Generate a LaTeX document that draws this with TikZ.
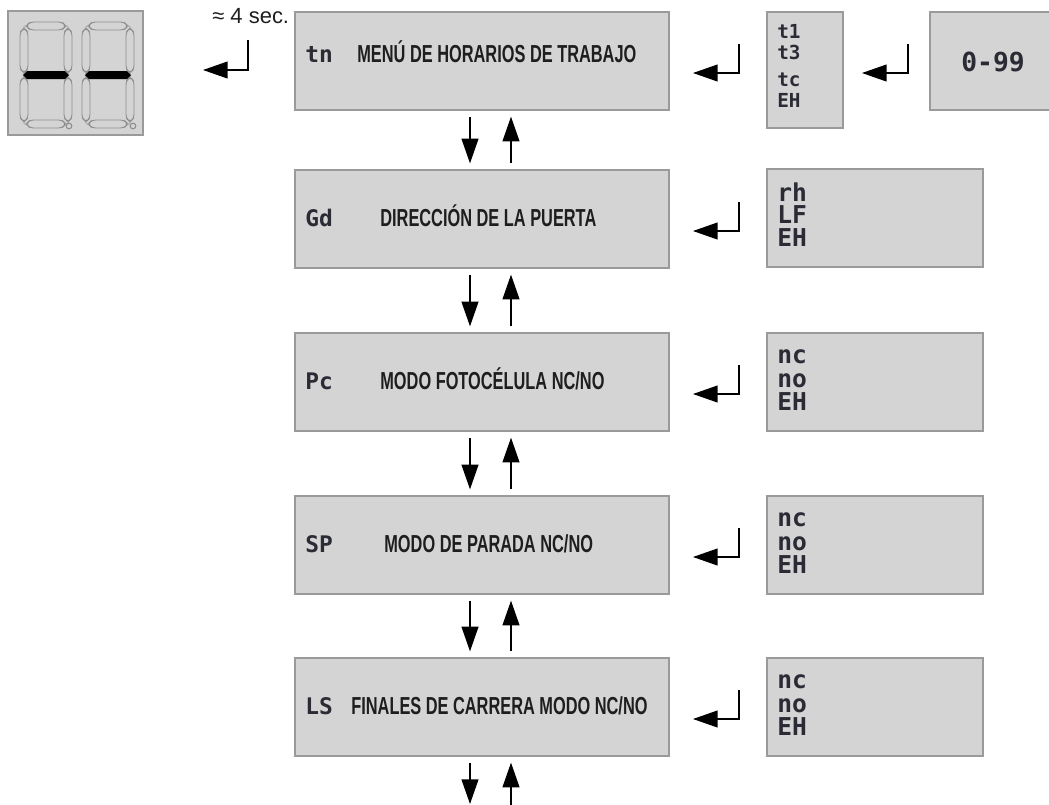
\documentclass[tikz,border=0pt]{standalone}
\usepackage{fontspec}
\usepackage{graphicx}
\setmainfont{Liberation Sans}
\newfontfamily\segfont{DejaVu Sans Mono}
\usetikzlibrary{arrows.meta,calc}
\definecolor{boxfill}{HTML}{D4D4D4}
\definecolor{boxline}{HTML}{9A9A9A}
\definecolor{segcol}{HTML}{2B2B35}
\definecolor{labcol}{HTML}{1E1E1E}
\definecolor{segline}{HTML}{8E8E8E}
\newcommand\hsegm[3]{(#1,#3)--({#1+4},{#3-4})--({#2-4},{#3-4})--(#2,#3)--({#2-4},{#3+4})--({#1+4},{#3+4})--cycle}
\newcommand\vsegm[3]{(#1,#2)--({#1+4},{#2+4})--({#1+4},{#3-4})--(#1,#3)--({#1-4},{#3-4})--({#1-4},{#2+4})--cycle}
\newcommand\sevdigit[2]{%
  \begin{scope}[shift={(#1,#2)}]
    \draw[seg, rounded corners=2pt] \hsegm{6}{46}{4};
    \draw[seg, rounded corners=2pt] \hsegm{6}{46}{102};
    \draw[seg, rounded corners=2pt] \vsegm{4}{6}{51};
    \draw[seg, rounded corners=2pt] \vsegm{48}{6}{51};
    \draw[seg, rounded corners=2pt] \vsegm{4}{55}{100};
    \draw[seg, rounded corners=2pt] \vsegm{48}{55}{100};
    \fill[black] \hsegm{3}{49}{53};
  \end{scope}}
\begin{document}
\begin{tikzpicture}[x=0.02cm,y=-0.02cm,
  box/.style={draw=boxline, fill=boxfill, line width=0.8pt, inner sep=0pt},
  mainbox/.style={box, minimum width=7.48cm, minimum height=1.96cm},
  rbox/.style={box, minimum width=4.32cm, minimum height=1.96cm},
  arr/.style={line width=0.7pt, -{Triangle[length=14pt,width=9.6pt]}},
  code/.style={font=\segfont\bfseries\fontsize{13}{13}\selectfont, text=segcol, inner sep=0pt, anchor=base west},
  opt/.style={font=\segfont\bfseries\fontsize{14}{14}\selectfont, text=segcol, inner sep=0pt, anchor=base west},
  optsm/.style={font=\segfont\bfseries\fontsize{11}{11}\selectfont, text=segcol, inner sep=0pt, anchor=base west},
  lab/.style={font=\bfseries\fontsize{14}{14}\selectfont, text=labcol, inner sep=0pt, anchor=base west},
  seg/.style={draw=segline, fill=boxfill, line width=0.5pt}]
\useasboundingbox (0,0) rectangle (1049,805);

% seven-segment display
\node[box, minimum width=2.7cm, minimum height=2.48cm] (disp) at (75.5,73) {};
\sevdigit{20}{22}
\sevdigit{82}{22}
\draw[segline, line width=0.6pt] (69,126) circle[radius=1.6pt];
\draw[segline, line width=0.6pt] (133,126) circle[radius=1.6pt];

% time label and return arrow
\node[font=\fontsize{12.5}{12.5}\selectfont, text=labcol, inner sep=0pt, anchor=base west] (sec) at (212,23) {≈ 4 sec.};
\coordinate (k0a) at (248,40);
\coordinate (k0b) at (203,70);
\draw[arr] (k0a) |- (k0b);

% main boxes
\node[mainbox] (m1) at (482,61) {};
\node[mainbox] (m2) at (482,219) {};
\node[mainbox] (m3) at (482,382) {};
\node[mainbox] (m4) at (482,545) {};
\node[mainbox] (m5) at (482,707) {};

\node[code] (c1) at (305,62) {tn};
\node[code] (c2) at (305,226) {Gd};
\node[code] (c3) at (305,389) {Pc};
\node[code] (c4) at (305,552) {SP};
\node[code] (c5) at (305,714) {LS};

\node[lab] (l1) at (357,62) {\scalebox{0.665}[1]{MENÚ DE HORARIOS DE TRABAJO}};
\node[lab] (l2) at (380,226) {\scalebox{0.665}[1]{DIRECCIÓN DE LA PUERTA}};
\node[lab] (l3) at (380,389) {\scalebox{0.665}[1]{MODO FOTOCÉLULA NC/NO}};
\node[lab] (l4) at (384,552) {\scalebox{0.665}[1]{MODO DE PARADA NC/NO}};
\node[lab] (l5) at (351,714) {\scalebox{0.665}[1]{FINALES DE CARRERA MODO NC/NO}};

% up/down arrows
\coordinate (dx) at (470,0);
\coordinate (ux) at (511,0);
\foreach \a/\b in {m1/m2,m2/m3,m3/m4,m4/m5}{
  \draw[arr, shorten <=3.4pt, shorten >=3.4pt] (\a.south -| dx) -- (\b.north -| dx);
  \draw[arr, shorten <=3.4pt, shorten >=3.4pt] (\b.north -| ux) -- (\a.south -| ux);
}
\coordinate (bd) at (470,804);
\coordinate (bu) at (511,807);
\draw[arr, shorten <=3.4pt] (m5.south -| dx) -- (bd);
\draw[arr, shorten >=3.4pt] (bu) -- (m5.south -| ux);

% right boxes
\node[box, minimum width=1.52cm, minimum height=2.32cm] (r1) at (805,70) {};
\node[box, minimum width=2.44cm, minimum height=1.96cm] (r0) at (991,61) {};
\node[rbox] (r2) at (875,218) {};
\node[rbox] (r3) at (875,382) {};
\node[rbox] (r4) at (875,545) {};
\node[rbox] (r5) at (875,707) {};

\node[font=\segfont\bfseries\fontsize{15}{15}\selectfont, text=segcol, inner sep=0pt] (n099) at (993,62) {0-99};

\node[optsm] (t1) at (777,38) {t1};
\node[optsm] (t3) at (777,59) {t3};
\node[optsm] (tc) at (777,86) {tc};
\node[optsm] (te) at (777,107) {EH};

\node[opt] (o2a) at (777,201) {rh};
\node[opt] (o2b) at (777,223) {LF};
\node[opt] (o2c) at (777,246) {EH};
\foreach \n/\t in {3/333,4/496,5/658}{
  \node[opt] (o\n a) at (777,\t+30) {nc};
  \node[opt] (o\n b) at (777,\t+54) {no};
  \node[opt] (o\n c) at (777,\t+77) {EH};
}

% return arrows
\foreach \i/\c in {1/61,2/219,3/382,4/545,5/707}{
  \coordinate (h\i a) at (739,\c-17);
  \coordinate (h\i b) at (693,\c+12);
  \draw[arr] (h\i a) |- (h\i b);
}
\coordinate (h0a) at (908,44);
\coordinate (h0b) at (862,73);
\draw[arr] (h0a) |- (h0b);
\end{tikzpicture}
\end{document}
